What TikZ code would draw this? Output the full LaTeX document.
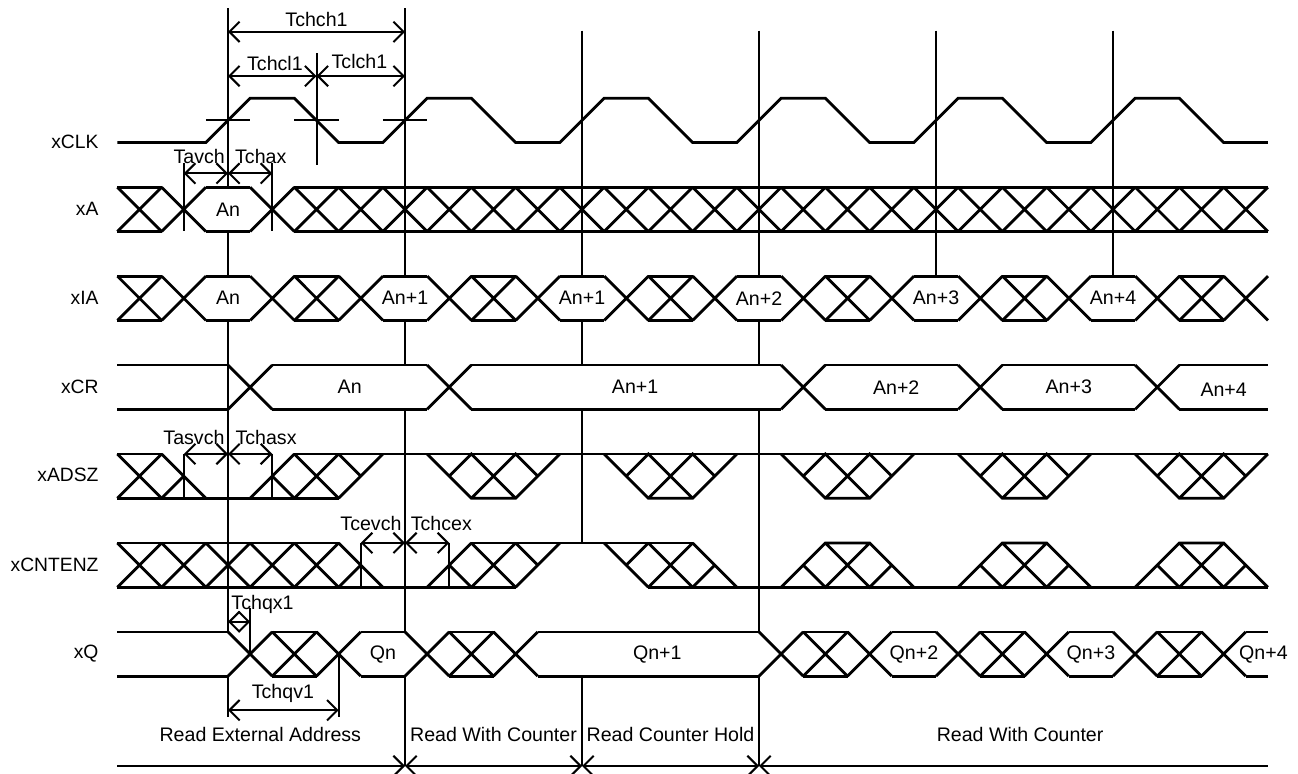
\documentclass[tikz,border=0pt]{standalone}
\usepackage{fontspec}
\setmainfont{Liberation Sans}
\usetikzlibrary{arrows.meta}

\tikzstyle{sig} = [line width=1.8pt]
\tikzstyle{guide} = [line width=1.3pt]
\tikzstyle{dim} = [line width=1.3pt, <->]
\tikzstyle{lbl} = [font=\fontsize{12.6}{15}\selectfont, inner sep=0pt]
\tikzstyle{signame} = [font=\fontsize{12.4}{15}\selectfont, inner sep=0pt, anchor=east]
\tikzset{>={Straight Barb[length=2.3mm,width=4.6mm]}}

% bus pieces: crossing, both rails, white inside of a valid slot
\newcommand{\xcross}[2]{\draw[sig] (#1-0.5,#2+0.5) -- (#1+0.5,#2-0.5) (#1-0.5,#2-0.5) -- (#1+0.5,#2+0.5);}
\newcommand{\bus}[3]{\draw[sig] (#1,#3+0.5) -- (#2,#3+0.5) (#1,#3-0.5) -- (#2,#3-0.5);}
\newcommand{\hexfill}[3]{\fill[white] (#1,#3) -- (#1+0.5,#3+0.5) -- (#2-0.5,#3+0.5) -- (#2,#3) -- (#2-0.5,#3-0.5) -- (#1+0.5,#3-0.5) -- cycle;}

\begin{document}
\begin{tikzpicture}
\useasboundingbox (-5.153,0) rectangle (24.18,-17.49);

% clock edge guides
\draw[guide] (0,-0.19) -- (0,-14.28);
\draw[guide] (4,-0.19) -- (4,-14.28);
\draw[guide] (8,-0.69) -- (8,-12.27);
\draw[guide] (12,-0.69) -- (12,-14.28);
\draw[guide] (16,-0.69) -- (16,-6.24);
\draw[guide] (20,-0.69) -- (20,-6.24);
\draw[guide] (2,-1.2) -- (2,-3.73);
\draw[guide] (4,-15.28) -- (4,-17.31);
\draw[guide] (8,-15.28) -- (8,-17.31);
\draw[guide] (12,-15.28) -- (12,-17.31);

% timing marks
\draw[dim] (0,-0.72) -- (4,-0.72);
\node[lbl] (tchch) at (2,-0.45) {Tchch1};
\draw[dim] (0,-1.72) -- (2,-1.72);
\draw[dim] (2,-1.72) -- (4,-1.72);
\node[lbl] (tchcl) at (1.06,-1.43) {Tchcl1};
\node[lbl] (tclch) at (2.97,-1.39) {Tclch1};
\foreach \x in {0,2,4} {\draw[guide] (\x-0.5,-2.72) -- (\x+0.5,-2.72);}

\draw[guide] (-1,-3.68) -- (-1,-5.23);
\draw[guide] (1,-3.68) -- (1,-5.23);
\draw[dim] (-1,-3.92) -- (0,-3.92);
\draw[dim] (0,-3.92) -- (1,-3.92);
\node[lbl] (tavch) at (-0.65,-3.54) {Tavch};
\node[lbl] (tchax) at (0.74,-3.54) {Tchax};

\draw[guide] (-1,-10.26) -- (-1,-11.26);
\draw[guide] (1,-10.26) -- (1,-11.26);
\draw[dim] (-1,-10.26) -- (0,-10.26);
\draw[dim] (0,-10.26) -- (1,-10.26);
\node[lbl] (tasvch) at (-0.77,-9.88) {Tasvch};
\node[lbl] (tchasx) at (0.86,-9.88) {Tchasx};

\draw[guide] (3,-12.27) -- (3,-13.27);
\draw[guide] (5,-12.27) -- (5,-13.27);
\draw[dim] (3,-12.27) -- (4,-12.27);
\draw[dim] (4,-12.27) -- (5,-12.27);
\node[lbl] (tcevch) at (3.23,-11.83) {Tcevch};
\node[lbl] (tchcex) at (4.82,-11.83) {Tchcex};

\draw[guide] (0.5,-13.74) -- (0.5,-14.78);
\draw[dim] (0,-14.05) -- (0.5,-14.05);
\node[lbl] (tchqx) at (0.78,-13.67) {Tchqx1};
\draw[guide] (0,-15.28) -- (0,-16.2);
\draw[guide] (2.5,-14.78) -- (2.5,-16.2);
\draw[dim] (0,-16.05) -- (2.5,-16.05);
\node[lbl] (tchqv) at (1.24,-15.66) {Tchqv1};

% xCLK
\draw[sig] (-2.5,-3.22) foreach \k in {0,4,...,20} {-- (\k-0.5,-3.22) -- (\k+0.5,-2.22) -- (\k+1.5,-2.22) -- (\k+2.5,-3.22)} -- (23.5,-3.22);

% xA
\hexfill{-1}{1}{-4.73}
\bus{-2.5}{-1.5}{-4.73}
\bus{-0.5}{0.5}{-4.73}
\bus{1.5}{23.5}{-4.73}
\foreach \x in {-2,-1,1,2,...,23} {\xcross{\x}{-4.73}}

% xIA
\foreach \x in {0,4,...,20} {\hexfill{\x-1}{\x+1}{-6.74}}
\foreach \x in {-2,0,...,22} {\bus{\x-0.5}{\x+0.5}{-6.74}}
\foreach \x in {-2,-1,1,2,3,5,6,7,9,10,11,13,14,15,17,18,19,21,22,23} {\xcross{\x}{-6.74}}

% xCR
\hexfill{0.5}{5}{-8.75}
\hexfill{5}{13}{-8.75}
\hexfill{13}{17}{-8.75}
\hexfill{17}{21}{-8.75}
\bus{-2.5}{0}{-8.75}
\bus{1}{4.5}{-8.75}
\bus{5.5}{12.5}{-8.75}
\bus{13.5}{16.5}{-8.75}
\bus{17.5}{20.5}{-8.75}
\bus{21.5}{23.5}{-8.75}
\foreach \x in {0.5,5,13,17,21} {\xcross{\x}{-8.75}}

% xADSZ
\bus{-2.5}{-1.5}{-10.76}
\xcross{-2}{-10.76}
\draw[sig] (-1.5,-10.26) -- (-0.5,-11.26) (-1.5,-11.26) -- (-1,-10.76);
\draw[sig] (-1.5,-11.26) -- (2.5,-11.26);
\draw[sig] (1.5,-10.26) -- (23.5,-10.26);
\draw[sig] (0.5,-11.26) -- (1.5,-10.26) (1,-10.76) -- (1.5,-11.26);
\xcross{2}{-10.76}
\draw[sig] (2.5,-11.26) -- (3.5,-10.26) (2.5,-10.26) -- (3,-10.76);
\foreach \a in {4.5,8.5,...,20.5}
  \draw[sig] (\a,-10.26) -- (\a+1,-11.26) -- (\a+2,-11.26) -- (\a+3,-10.26)
             (\a+0.5,-10.76) -- (\a+1,-10.26) -- (\a+2,-11.26)
             (\a+1,-11.26) -- (\a+2,-10.26) -- (\a+2.5,-10.76);

% xCNTENZ
\bus{-2.5}{2.5}{-12.77}
\foreach \x in {-2,-1,...,2} {\xcross{\x}{-12.77}}
\draw[sig] (2.5,-12.27) -- (3.5,-13.27) (2.5,-13.27) -- (3,-12.77);
\draw[sig] (-2.5,-13.27) -- (6.5,-13.27);
\draw[sig] (4.5,-13.27) -- (5.5,-12.27) (5,-12.77) -- (5.5,-13.27);
\xcross{6}{-12.77}
\draw[sig] (6.5,-13.27) -- (7.5,-12.27) (6.5,-12.27) -- (7,-12.77);
\draw[sig] (5.5,-12.27) -- (10.5,-12.27);
\draw[sig] (8.5,-12.27) -- (9.5,-13.27) (9,-12.77) -- (9.5,-12.27);
\xcross{10}{-12.77}
\draw[sig] (10.5,-12.27) -- (11.5,-13.27) (10.5,-13.27) -- (11,-12.77);
\draw[sig] (9.5,-13.27) -- (23.5,-13.27);
\foreach \a in {12.5,16.5,20.5}
  \draw[sig] (\a,-13.27) -- (\a+1,-12.27) -- (\a+2,-12.27) -- (\a+3,-13.27)
             (\a+0.5,-12.77) -- (\a+1,-13.27) -- (\a+2,-12.27)
             (\a+1,-12.27) -- (\a+2,-13.27) -- (\a+2.5,-12.77);

% xQ
\hexfill{2.5}{4.5}{-14.78}
\hexfill{6.5}{12.5}{-14.78}
\bus{-2.5}{0}{-14.78}
\bus{1}{2}{-14.78}
\bus{3}{4}{-14.78}
\bus{5}{6}{-14.78}
\bus{7}{12}{-14.78}
\bus{13}{14}{-14.78}
\bus{15}{16}{-14.78}
\bus{17}{18}{-14.78}
\bus{19}{20}{-14.78}
\bus{21}{22}{-14.78}
\bus{23}{23.5}{-14.78}
\foreach \x in {0.5,1.5,2.5,4.5,5.5,6.5,12.5,13.5,14.5,16.5,17.5,18.5,20.5,21.5,22.5} {\xcross{\x}{-14.78}}

% data labels
\node[lbl] (a0) at (0,-4.73) {An};
\node[lbl] (ia0) at (0,-6.74) {An};
\node[lbl] (ia1) at (4,-6.74) {An+1};
\node[lbl] (ia2) at (8,-6.74) {An+1};
\node[lbl] (ia3) at (12,-6.74) {An+2};
\node[lbl] (ia4) at (16,-6.74) {An+3};
\node[lbl] (ia5) at (20,-6.74) {An+4};
\node[lbl] (cr0) at (2.75,-8.75) {An};
\node[lbl] (cr1) at (9.2,-8.75) {An+1};
\node[lbl] (cr2) at (15.1,-8.75) {An+2};
\node[lbl] (cr3) at (19,-8.75) {An+3};
\node[lbl] (cr4) at (22.5,-8.8) {An+4};
\node[lbl] (q0) at (3.5,-14.78) {Qn};
\node[lbl] (q1) at (9.7,-14.78) {Qn+1};
\node[lbl] (q2) at (15.5,-14.78) {Qn+2};
\node[lbl] (q3) at (19.5,-14.78) {Qn+3};
\node[lbl] (q4) at (23.4,-14.78) {Qn+4};

% signal names
\node[signame] (nclk) at (-2.92,-3.2) {xCLK};
\node[signame] (na) at (-2.92,-4.73) {xA};
\node[signame] (nia) at (-2.92,-6.74) {xIA};
\node[signame] (ncr) at (-2.92,-8.75) {xCR};
\node[signame] (nadsz) at (-2.92,-10.72) {xADSZ};
\node[signame] (ncnt) at (-2.92,-12.77) {xCNTENZ};
\node[signame] (nq) at (-2.92,-14.78) {xQ};

% phases
\draw[guide, ->] (-2.5,-17.31) -- (4,-17.31);
\draw[guide, <->] (4,-17.31) -- (8,-17.31);
\draw[guide, <->] (8,-17.31) -- (12,-17.31);
\draw[guide, <-] (12,-17.31) -- (23.5,-17.31);
\node[lbl] (ph1) at (0.73,-16.6) {Read External Address};
\node[lbl] (ph2) at (6,-16.6) {Read With Counter};
\node[lbl] (ph3) at (10,-16.6) {Read Counter Hold};
\node[lbl] (ph4) at (17.9,-16.6) {Read With Counter};
\end{tikzpicture}
\end{document}
